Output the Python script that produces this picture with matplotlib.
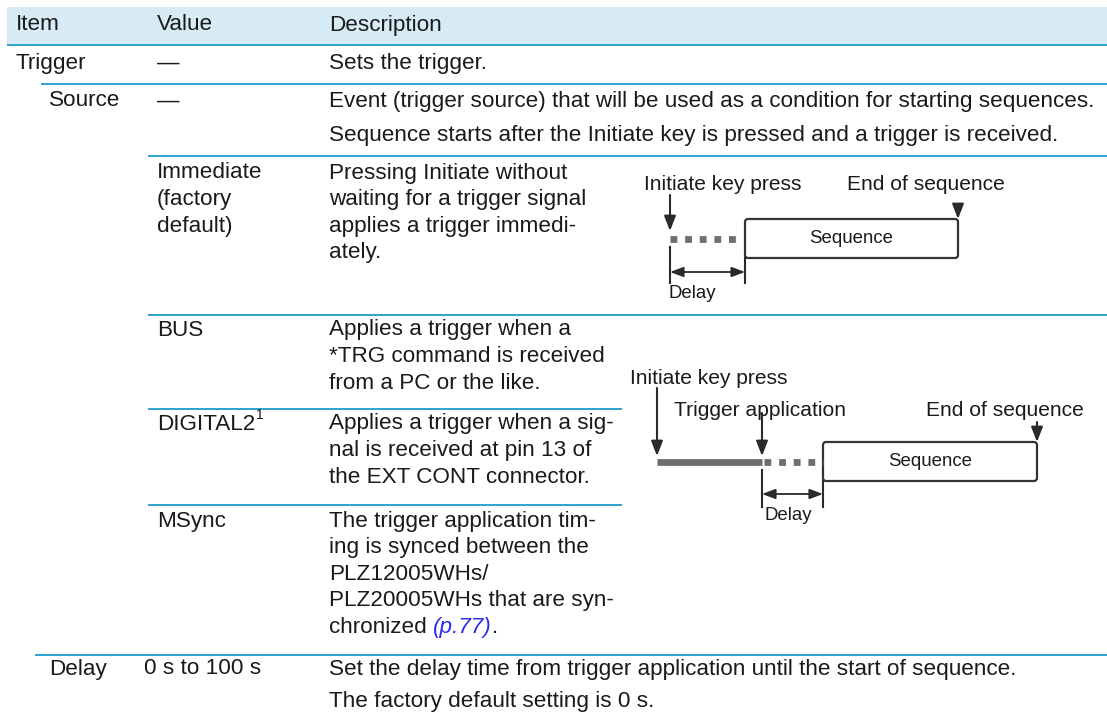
import matplotlib.pyplot as plt
from matplotlib.patches import Rectangle, FancyBboxPatch

plt.rcParams['font.family'] = ['Liberation Sans', 'DejaVu Sans']

# table content
header = ["Item", "Value", "Description"]
item_labels = ["Trigger", "Source", "Delay"]
value_labels = ["—", "—", "Immediate\n(factory\ndefault)", "BUS",
                "DIGITAL2", "MSync", "0 s to 100 s"]
footnote_mark = "1"
descriptions = [
    "Sets the trigger.",
    "Event (trigger source) that will be used as a condition for starting sequences.\n"
    "Sequence starts after the Initiate key is pressed and a trigger is received.",
    "Pressing Initiate without\nwaiting for a trigger signal\napplies a trigger immedi-\nately.",
    "Applies a trigger when a\n*TRG command is received\nfrom a PC or the like.",
    "Applies a trigger when a sig-\nnal is received at pin 13 of\nthe EXT CONT connector.",
    "The trigger application tim-\ning is synced between the\nPLZ12005WHs/\nPLZ20005WHs that are syn-\nchronized ",
    "Set the delay time from trigger application until the start of sequence.\n"
    "The factory default setting is 0 s.",
]
link_text = "(p.77)"

# diagram labels
diag1_labels = ["Initiate key press", "End of sequence", "Sequence", "Delay"]
diag2_labels = ["Initiate key press", "Trigger application", "End of sequence", "Sequence", "Delay"]

W, H = 1107, 722
fig = plt.figure(figsize=(W / 100, H / 100), dpi=100)
ax = fig.add_axes([0, 0, 1, 1])
ax.set_xlim(0, W)
ax.set_ylim(H, 0)
ax.axis('off')

FS = 16.2
FS_DIAG = 15.1
FS_SMALL = 13.4
TXT = '#1a1a1a'
LINE = '#1e9cc8'
GRAY = '#6e6e70'
DARK = '#2a2a2a'

# header band
ax.add_patch(Rectangle((7, 7), W - 7, 38, facecolor='#d6ebf6', edgecolor='none'))
for lbl, x in zip(header, [16, 157, 329]):
    ax.text(x, 25, lbl, fontsize=FS, color=TXT, va='center')

# horizontal rules (y, x start, x end)
rules = [(45, 7, W), (84, 41, W), (156, 148, W), (315, 148, W),
         (409, 148, 622), (505, 148, 622), (655, 35, W)]
for y, x0, x1 in rules:
    ax.plot([x0, x1], [y, y], color=LINE, lw=1.3, solid_capstyle='butt')

LS = 26.6


def block(x, y, s, ls=LS):
    out = []
    for i, line in enumerate(s.split('\n')):
        out.append(ax.text(x, y + i * ls, line, fontsize=FS, color=TXT, va='center'))
    return out


# item column
for lbl, (x, y) in zip(item_labels, [(16, 63), (49, 101), (49, 669)]):
    block(x, y, lbl)

# value column
value_pos = [(157, 63), (157, 101), (157, 173), (157, 330), (157, 424), (157, 521), (144, 669)]
value_texts = []
for lbl, (x, y) in zip(value_labels, value_pos):
    value_texts.append(block(x, y, lbl)[0])

# description column
desc_pos = [(329, 63), (329, 101), (329, 173), (329, 330), (329, 424), (329, 521), (329, 669)]
desc_ls = [LS, 34, LS, LS, LS, LS, 33]
desc_texts = []
for s, (x, y), ls in zip(descriptions, desc_pos, desc_ls):
    desc_texts.append(block(x, y, s, ls))

fig.canvas.draw()
r = fig.canvas.get_renderer()

# superscript after DIGITAL2
dg = value_texts[4]
e = dg.get_window_extent(r)
ax.text(e.x1 + 1, dg.get_position()[1] - 9, footnote_mark, fontsize=FS * 0.62,
        color=TXT, va='center')

# link after "chronized "
last = desc_texts[5][-1]
ext = last.get_window_extent(r)
yl = last.get_position()[1]
lk = ax.text(ext.x1, yl, link_text, fontsize=FS, color='#2b2bea', style='italic', va='center')
fig.canvas.draw()
ext2 = lk.get_window_extent(r)
ax.text(ext2.x1, yl, ".", fontsize=FS, color=TXT, va='center')


def arrow(x, y0, y1):
    ax.annotate("", xy=(x, y1), xytext=(x, y0),
                arrowprops=dict(arrowstyle='-|>,head_length=0.9,head_width=0.35',
                                lw=1.5, color=DARK, shrinkA=0, shrinkB=0))


def dim(x0, x1, y, ytop0, ytop1, ybot):
    ax.plot([x0, x0], [ytop0, ybot], color=DARK, lw=1.5)
    ax.plot([x1, x1], [ytop1, ybot], color=DARK, lw=1.5)
    ax.annotate("", xy=(x1, y), xytext=(x0, y),
                arrowprops=dict(arrowstyle='<|-|>,head_length=0.8,head_width=0.3',
                                lw=1.3, color=DARK, shrinkA=0, shrinkB=0))


def seq_box(x0, x1, y0, y1, label):
    ax.add_patch(FancyBboxPatch((x0, y0), x1 - x0, y1 - y0,
                                boxstyle='round,pad=0,rounding_size=3',
                                facecolor='white', edgecolor='#333333', lw=1.6))
    ax.text((x0 + x1) / 2, (y0 + y1) / 2, label, fontsize=FS_SMALL, color=TXT,
            ha='center', va='center')


DOTS = (0, (1, 1.15))

# diagram 1: Immediate
ax.text(644, 184, diag1_labels[0], fontsize=FS_DIAG, color=TXT, va='center')
ax.text(847, 184, diag1_labels[1], fontsize=FS_DIAG, color=TXT, va='center')
arrow(670, 195, 231)
ax.plot([670, 740], [239, 239], color=GRAY, lw=4.9, linestyle=DOTS,
        dash_capstyle='butt')
seq_box(745, 958, 219, 258, diag1_labels[2])
arrow(958, 204, 219)
dim(670, 745, 272, 247, 258, 283)
ax.text(669, 294, diag1_labels[3], fontsize=FS_SMALL, color=TXT, va='center')

# diagram 2: BUS / DIGITAL2
ax.text(630, 378, diag2_labels[0], fontsize=FS_DIAG, color=TXT, va='center')
ax.text(674, 411, diag2_labels[1], fontsize=FS_DIAG, color=TXT, va='center')
ax.text(926, 411, diag2_labels[2], fontsize=FS_DIAG, color=TXT, va='center')
arrow(657, 388, 456)
arrow(762, 413, 456)
ax.plot([657, 762], [462, 462], color=GRAY, lw=4.9, solid_capstyle='butt')
ax.plot([764, 823], [462, 462], color=GRAY, lw=4.9, linestyle=DOTS,
        dash_capstyle='butt')
seq_box(823, 1037, 442, 481, diag2_labels[3])
arrow(1037, 422, 442)
dim(762, 823, 494, 470, 481, 507)
ax.text(765, 516, diag2_labels[4], fontsize=FS_SMALL, color=TXT, va='center')

fig.savefig('out.png', dpi=100)
